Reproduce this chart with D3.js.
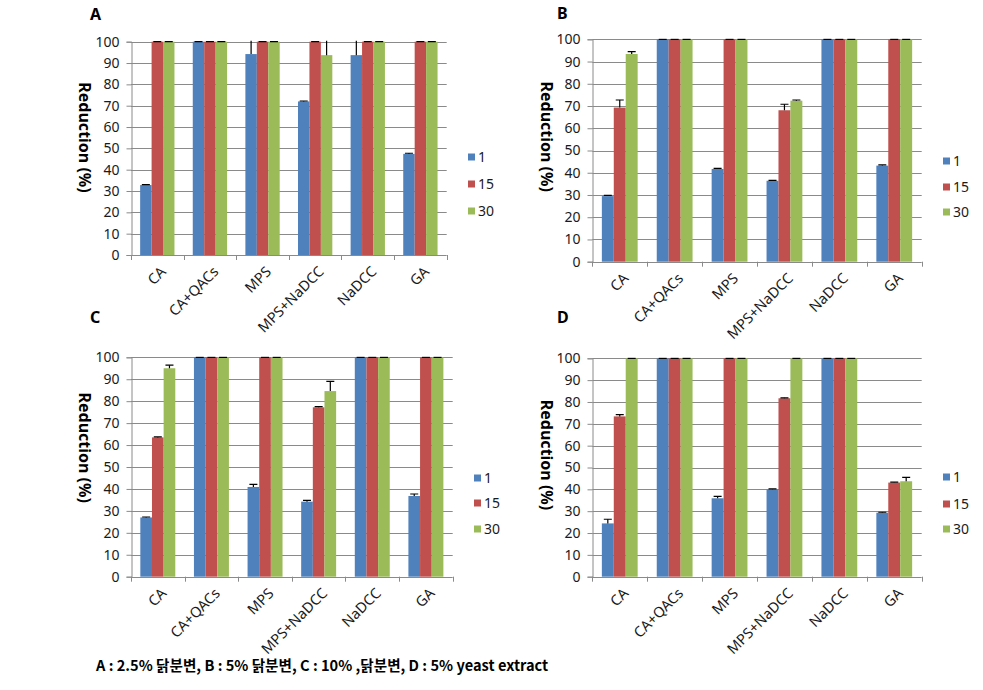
<!DOCTYPE html>
<html>
<head>
<meta charset="utf-8">
<script src="https://cdn.jsdelivr.net/npm/d3@7"></script>
<style>
  html, body { margin: 0; padding: 0; background: #fff; }
  svg { display: block; }
  text { font-family: "Noto Sans", "Noto Sans CJK KR", sans-serif; }
</style>
</head>
<body>
<svg id="chart" width="983" height="690"></svg>
<script>
// ---------- DATA ----------
const categories = ["CA", "CA+QACs", "MPS", "MPS+NaDCC", "NaDCC", "GA"];
const seriesNames = ["1", "15", "30"];
const yTickValues = [0, 10, 20, 30, 40, 50, 60, 70, 80, 90, 100];
const panelLabels = ["A", "B", "C", "D"];
const caption = "A : 2.5% 닭분변, B : 5% 닭분변, C : 10% ,닭분변, D : 5% yeast extract";

// Panel A
const A_1  = [32.8, 100, 94.2, 72.0, 93.7, 47.4];
const A_15 = [100, 100, 100, 100, 100, 100];
const A_30 = [100, 100, 100, 93.7, 100, 100];
const A_err1  = [0.2, 0, 8, 0.2, 8, 0.3];
const A_err15 = [0, 0, 0, 0, 0, 0];
const A_err30 = [0, 0, 0, 8, 0, 0];

// Panel B
const B_1  = [29.5, 100, 41.7, 36.4, 100, 43.2];
const B_15 = [69.3, 100, 100, 68.1, 100, 100];
const B_30 = [93.4, 100, 100, 72.4, 100, 100];
const B_err1  = [0.3, 0, 0.3, 0.2, 0, 0.3];
const B_err15 = [3.4, 0, 0, 2.7, 0, 0];
const B_err30 = [1.1, 0, 0, 0.3, 0, 0];

// Panel C
const C_1  = [27.0, 100, 40.9, 34.2, 100, 36.8];
const C_15 = [63.5, 100, 100, 77.2, 100, 100];
const C_30 = [95.0, 100, 100, 84.6, 100, 100];
const C_err1  = [0.2, 0, 1.2, 0.6, 0, 0.9];
const C_err15 = [0.2, 0, 0, 0.3, 0, 0];
const C_err30 = [1.4, 0, 0, 4.4, 0, 0];

// Panel D
const D_1  = [24.4, 100, 35.9, 40.0, 100, 29.3];
const D_15 = [73.4, 100, 100, 81.7, 100, 43.1];
const D_30 = [100, 100, 100, 100, 100, 43.7];
const D_err1  = [1.9, 0, 0.9, 0.2, 0, 0.2];
const D_err15 = [0.8, 0, 0, 0.2, 0, 0.2];
const D_err30 = [0, 0, 0, 0, 0, 1.8];

// ---------- LAYOUT ----------
const colors = ["#4F81BD", "#C0504D", "#9BBB59"];
const panels = [
  { label: panelLabels[0], vals: [A_1, A_15, A_30], errs: [A_err1, A_err15, A_err30],
    x0: 131, x1: 446.7, yTop: 41.7, yBot: 255, titleX: 90, titleY: 20,
    yLabX: 85, yLabY: 137.5, legX: 468, legY: [157, 184, 211] },
  { label: panelLabels[1], vals: [B_1, B_15, B_30], errs: [B_err1, B_err15, B_err30],
    x0: 592.3, x1: 921.7, yTop: 39.3, yBot: 261.7, titleX: 557, titleY: 19,
    yLabX: 546.7, yLabY: 136.7, legX: 943, legY: [161, 187, 212] },
  { label: panelLabels[2], vals: [C_1, C_15, C_30], errs: [C_err1, C_err15, C_err30],
    x0: 131, x1: 452.7, yTop: 357.3, yBot: 576.7, titleX: 90, titleY: 323,
    yLabX: 85, yLabY: 447.7, legX: 474, legY: [478, 503, 529] },
  { label: panelLabels[3], vals: [D_1, D_15, D_30], errs: [D_err1, D_err15, D_err30],
    x0: 592.3, x1: 921.7, yTop: 358.3, yBot: 576.7, titleX: 557, titleY: 323,
    yLabX: 546.7, yLabY: 455, legX: 943, legY: [477, 504, 529] }
];

const svg = d3.select("#chart");
const gridColor = "#8a8a8a";
const textColor = "#1a1a1a";

panels.forEach((p, pi) => {
  const g = svg.append("g");
  const x = d3.scaleBand().domain(categories).range([p.x0, p.x1]).paddingInner(0).paddingOuter(0);
  const bw = x.bandwidth();
  const barW = bw / 4.6;
  const pad = (bw - 3 * barW) / 2;
  const xs = d3.scaleBand().domain(seriesNames).range([pad, pad + 3 * barW]).padding(0);
  const y = d3.scaleLinear().domain([0, 100]).range([p.yBot, p.yTop]);

  // clip
  const clipId = "clip" + pi;
  svg.append("defs").append("clipPath").attr("id", clipId)
    .append("rect").attr("x", p.x0).attr("y", p.yTop - 1)
    .attr("width", p.x1 - p.x0).attr("height", p.yBot - p.yTop + 1);

  // gridlines
  g.append("g").selectAll("line").data(yTickValues.filter(d => d > 0)).join("line")
    .attr("x1", p.x0).attr("x2", p.x1)
    .attr("y1", d => Math.round(y(d)) + 0.5).attr("y2", d => Math.round(y(d)) + 0.5)
    .attr("stroke", gridColor).attr("stroke-width", 1);

  // y axis
  const yAxis = d3.axisLeft(y).tickValues(yTickValues).tickSize(5).tickPadding(7);
  const ya = g.append("g").attr("transform", `translate(${Math.round(p.x0) + 0.5},0)`).call(yAxis);
  ya.select(".domain").attr("stroke", gridColor);
  ya.selectAll(".tick line").attr("stroke", gridColor);
  ya.selectAll(".tick text").attr("font-size", 14).attr("fill", textColor)
    .style("font-family", "'Noto Sans', sans-serif");

  // x axis line + ticks at band boundaries
  const xa = g.append("g");
  xa.append("line").attr("x1", p.x0).attr("x2", p.x1)
    .attr("y1", Math.round(p.yBot) + 0.5).attr("y2", Math.round(p.yBot) + 0.5)
    .attr("stroke", gridColor);
  const bounds = categories.map(c => x(c)).concat([p.x1]);
  xa.selectAll("line.tk").data(bounds).join("line").attr("class", "tk")
    .attr("x1", d => Math.round(d) + 0.5).attr("x2", d => Math.round(d) + 0.5)
    .attr("y1", p.yBot).attr("y2", p.yBot + 5).attr("stroke", gridColor);
  xa.selectAll("text").data(categories).join("text")
    .attr("transform", d => `translate(${x(d) + bw / 2 + 6},${p.yBot + 14}) rotate(-45)`)
    .attr("text-anchor", "end").attr("dy", "0.35em")
    .attr("font-size", 14.5).attr("fill", textColor).text(d => d);

  // bars
  const barsG = g.append("g");
  seriesNames.forEach((s, si) => {
    const data = categories.map((c, ci) => ({ c, v: p.vals[si][ci], e: p.errs[si][ci] }));
    barsG.append("g").selectAll("rect").data(data).join("rect")
      .attr("x", d => x(d.c) + xs(s))
      .attr("y", d => y(d.v))
      .attr("width", xs.bandwidth())
      .attr("height", d => y(0) - y(d.v))
      .attr("fill", colors[si]);
  });

  // error bars (plus direction)
  const errG = g.append("g").attr("clip-path", `url(#${clipId})`);
  seriesNames.forEach((s, si) => {
    const data = categories.map((c, ci) => ({ c, v: p.vals[si][ci], e: p.errs[si][ci] }));
    const cx = d => x(d.c) + xs(s) + xs.bandwidth() / 2;
    errG.append("g").selectAll("line.v").data(data).join("line").attr("class", "v")
      .attr("x1", cx).attr("x2", cx)
      .attr("y1", d => y(d.v)).attr("y2", d => y(d.v + d.e))
      .attr("stroke", "#000").attr("stroke-width", 1.2);
    errG.append("g").selectAll("line.c").data(data).join("line").attr("class", "c")
      .attr("x1", d => cx(d) - 4).attr("x2", d => cx(d) + 4)
      .attr("y1", d => y(d.v + d.e)).attr("y2", d => y(d.v + d.e))
      .attr("stroke", "#000").attr("stroke-width", 1.2);
  });

  // panel title
  svg.append("text").attr("x", p.titleX).attr("y", p.titleY)
    .attr("font-size", 16).attr("font-weight", "bold").attr("fill", "#000").text(p.label);

  // y axis label
  svg.append("text")
    .attr("transform", `translate(${p.yLabX},${p.yLabY}) rotate(90)`)
    .attr("text-anchor", "middle").attr("dy", "0.35em")
    .attr("font-size", 16).attr("font-weight", "bold").attr("fill", "#000")
    .text("Reduction (%)");

  // legend
  const leg = svg.append("g");
  seriesNames.forEach((s, si) => {
    leg.append("rect").attr("x", p.legX).attr("y", p.legY[si] - 3.5)
      .attr("width", 7).attr("height", 7).attr("fill", colors[si]);
    leg.append("text").attr("x", p.legX + 10).attr("y", p.legY[si])
      .attr("dy", "0.35em").attr("font-size", 14).attr("fill", textColor).text(s);
  });
});

// caption
svg.append("text").attr("x", 96).attr("y", 671)
  .attr("font-size", 14.6).attr("font-weight", "bold").attr("fill", "#000")
  .style("font-family", "'Noto Sans CJK KR', 'Noto Sans', sans-serif")
  .text(caption);
</script>
</body>
</html>
